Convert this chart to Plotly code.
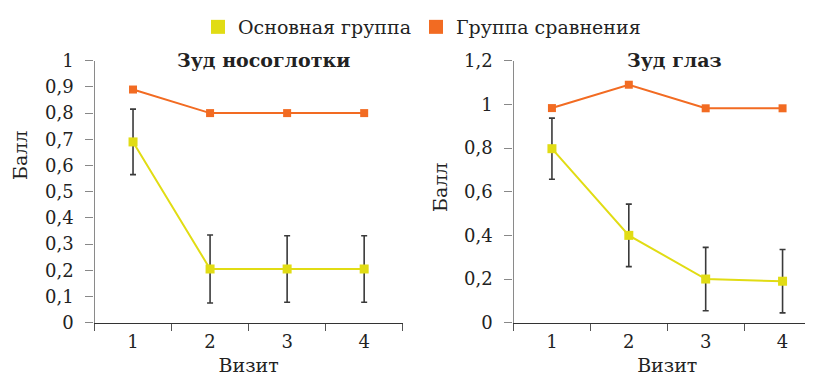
import plotly.graph_objects as go

visits = ["1", "2", "3", "4"]

# Left panel: Зуд носоглотки
nose_main = [0.69, 0.205, 0.205, 0.205]
nose_main_err = [0.125, 0.13, 0.127, 0.127]
nose_comp = [0.89, 0.80, 0.80, 0.80]

# Right panel: Зуд глаз
eye_main = [0.797, 0.40, 0.20, 0.19]
eye_main_err = [0.14, 0.143, 0.145, 0.145]
eye_comp = [0.983, 1.09, 0.982, 0.982]

left_ticks = [0, 0.1, 0.2, 0.3, 0.4, 0.5, 0.6, 0.7, 0.8, 0.9, 1]
left_ticktext = ["0", "0,1", "0,2", "0,3", "0,4", "0,5", "0,6", "0,7", "0,8", "0,9", "1"]
right_ticks = [0, 0.2, 0.4, 0.6, 0.8, 1, 1.2]
right_ticktext = ["0", "0,2", "0,4", "0,6", "0,8", "1", "1,2"]

YELLOW = "#e1dc14"
ORANGE = "#f26b22"
ERR = "#3a3a3a"
FONT = "DejaVu Serif"
TXT = "#222"

W = 813.0
H = 378.0
OFF = 8.0  # page body margin


def xp(p):
    return (p - OFF) / W


def yp(p):
    return (H - (p - OFF)) / H


fig = go.Figure()


def add_panel(main, err, comp, xa, ya):
    fig.add_trace(go.Scatter(
        x=visits, y=comp, xaxis=xa, yaxis=ya, mode="lines+markers",
        line=dict(color=ORANGE, width=2),
        marker=dict(symbol="square", size=8, color=ORANGE),
        showlegend=False, cliponaxis=False))
    fig.add_trace(go.Scatter(
        x=visits, y=main, xaxis=xa, yaxis=ya, mode="lines+markers",
        line=dict(color=YELLOW, width=2),
        marker=dict(symbol="square", size=9, color=YELLOW),
        error_y=dict(type="data", array=err, visible=True, color=ERR,
                     thickness=1.6, width=3),
        showlegend=False, cliponaxis=False))


add_panel(nose_main, nose_main_err, nose_comp, "x", "y")
add_panel(eye_main, eye_main_err, eye_comp, "x2", "y2")

# legend entries
fig.add_trace(go.Scatter(x=[None], y=[None], mode="markers", name="Основная группа",
                         marker=dict(symbol="square", size=14, color=YELLOW)))
fig.add_trace(go.Scatter(x=[None], y=[None], mode="markers", name="Группа сравнения",
                         marker=dict(symbol="square", size=14, color=ORANGE)))

y_dom = [yp(322.7), yp(60.7)]

xcommon = dict(type="category", tickson="boundaries", ticks="outside", ticklen=7,
               tickcolor="#555", tickwidth=1.3, showline=True, linecolor="#333",
               linewidth=1.3, showgrid=False, zeroline=False, automargin=False,
               ticklabelstandoff=3,
               tickfont=dict(family=FONT, size=18, color=TXT),
               title=dict(text="Визит", font=dict(family=FONT, size=19, color=TXT),
                          standoff=7))
ycommon = dict(ticks="outside", ticklen=8, tickcolor="#888", tickwidth=1.3,
               showline=True, linecolor="#8a8a8a", linewidth=1.3, showgrid=False,
               zeroline=False, ticklabelstandoff=8, automargin=False,
               tickfont=dict(family=FONT, size=18, color=TXT))

fig.update_layout(
    width=813, height=378,
    margin=dict(l=0, r=0, t=0, b=0, autoexpand=False),
    paper_bgcolor="white", plot_bgcolor="white",
    font=dict(family=FONT, color=TXT),
    xaxis=dict(domain=[xp(94.5), xp(402.7)], range=[-0.5, 3.5], anchor="y", **xcommon),
    yaxis=dict(domain=y_dom, range=[0, 1], tickvals=left_ticks, ticktext=left_ticktext,
               anchor="x", **ycommon),
    xaxis2=dict(domain=[xp(513.5), min(1.0, xp(821.7))], range=[-0.5, 3.5], anchor="y2", **xcommon),
    yaxis2=dict(domain=y_dom, range=[0, 1.2], tickvals=right_ticks, ticktext=right_ticktext,
                anchor="x2", **ycommon),
    legend=dict(orientation="h", x=xp(422), y=1.0, xanchor="center", yanchor="top",
                font=dict(family=FONT, size=19, color=TXT),
                itemwidth=30, tracegroupgap=0, bgcolor="rgba(0,0,0,0)"),
    annotations=[
        dict(text="<b>Зуд носоглотки</b>", x=xp(263), y=yp(60), xref="paper", yref="paper",
             xanchor="center", yanchor="middle",
             showarrow=False, font=dict(family=FONT, size=19, color=TXT)),
        dict(text="<b>Зуд глаз</b>", x=xp(674), y=yp(60), xref="paper", yref="paper",
             xanchor="center", yanchor="middle",
             showarrow=False, font=dict(family=FONT, size=19, color=TXT)),
        dict(text="Балл", x=xp(20), y=yp(156), xref="paper", yref="paper", textangle=-90,
             xanchor="center", yanchor="middle",
             showarrow=False, font=dict(family=FONT, size=19, color=TXT)),
        dict(text="Балл", x=xp(440), y=yp(188), xref="paper", yref="paper", textangle=-90,
             xanchor="center", yanchor="middle",
             showarrow=False, font=dict(family=FONT, size=19, color=TXT)),
    ],
)

fig.write_html("out.html")
